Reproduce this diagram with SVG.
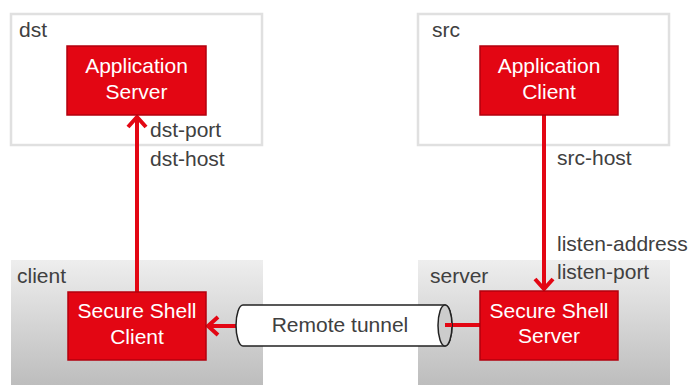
<svg xmlns="http://www.w3.org/2000/svg" width="691" height="385" viewBox="0 0 691 385">
<style>
.host{fill:#ffffff;stroke:#e0e0e0;stroke-width:2.5}
.zone{fill:url(#g)}
.node{fill:#e30613;stroke:#b3000e;stroke-width:1.5}
.wt{font-family:"Liberation Sans",Arial,sans-serif;font-size:21px;fill:#ffffff;text-anchor:middle}
.gt{font-family:"Liberation Sans",Arial,sans-serif;font-size:21px;fill:#404040}
.ln{fill:none;stroke:#e30613;stroke-width:4}
.ah{fill:none;stroke:#e30613;stroke-width:4;stroke-linecap:butt}
</style>
<defs>
<linearGradient id="g" x1="0" y1="0" x2="0" y2="1">
<stop offset="0" stop-color="#eeeeee"/>
<stop offset="1" stop-color="#bdbdbd"/>
</linearGradient>
</defs>
<rect width="691" height="385" fill="#ffffff"/>
<g id="dst">
<rect class="host" x="11" y="14" width="251" height="131"/>
<text class="gt" x="19" y="37">dst</text>
</g>
<g id="src">
<rect class="host" x="418" y="14" width="251" height="131"/>
<text class="gt" x="432" y="37">src</text>
</g>
<g id="client">
<rect class="zone" x="11" y="260" width="252" height="125"/>
<text class="gt" x="17" y="283">client</text>
</g>
<g id="server">
<rect class="zone" x="418" y="260" width="252" height="125"/>
<text class="gt" x="430" y="283">server</text>
</g>
<g id="connectors">
<line class="ln" x1="137" y1="292" x2="137" y2="119"/>
<polyline class="ah" points="128,127 137,117 146,127"/>
<line class="ln" x1="544" y1="115" x2="544" y2="288"/>
<polyline class="ah" points="535,279 544,289 553,279"/>
<line class="ln" x1="236" y1="326" x2="209" y2="326"/>
<polyline class="ah" points="218,317 208,326 218,335"/>
<line class="ln" x1="445" y1="325" x2="480" y2="325"/>
</g>
<g id="tunnel">
<path d="M243,305 L445,305 A7,20.5 0 0 1 445,346 L243,346 A7,20.5 0 0 1 243,305 Z" fill="#ffffff" stroke="#222222" stroke-width="1.5"/>
<ellipse cx="445" cy="325.5" rx="7" ry="20.5" fill="#cccccc" stroke="#222222" stroke-width="1.5"/>
<line class="ln" x1="445" y1="325" x2="452" y2="325"/>
<text class="gt" x="340" y="332" text-anchor="middle">Remote tunnel</text>
</g>
<g id="app-server">
<rect class="node" x="67" y="46" width="139" height="69"/>
<text class="wt" x="136.5" y="73">Application</text>
<text class="wt" x="136.5" y="99">Server</text>
</g>
<g id="app-client">
<rect class="node" x="480" y="46" width="138" height="69"/>
<text class="wt" x="549" y="73">Application</text>
<text class="wt" x="549" y="99">Client</text>
</g>
<g id="ssh-client">
<rect class="node" x="68" y="292" width="138" height="68"/>
<text class="wt" x="137" y="318">Secure Shell</text>
<text class="wt" x="137" y="344">Client</text>
</g>
<g id="ssh-server">
<rect class="node" x="480" y="291" width="138" height="69"/>
<text class="wt" x="549" y="318">Secure Shell</text>
<text class="wt" x="549" y="343">Server</text>
</g>
<g id="labels">
<text class="gt" x="150" y="137">dst-port</text>
<text class="gt" x="150" y="166">dst-host</text>
<text class="gt" x="557" y="165">src-host</text>
<text class="gt" x="557" y="251">listen-address</text>
<text class="gt" x="557" y="279">listen-port</text>
</g>
</svg>
